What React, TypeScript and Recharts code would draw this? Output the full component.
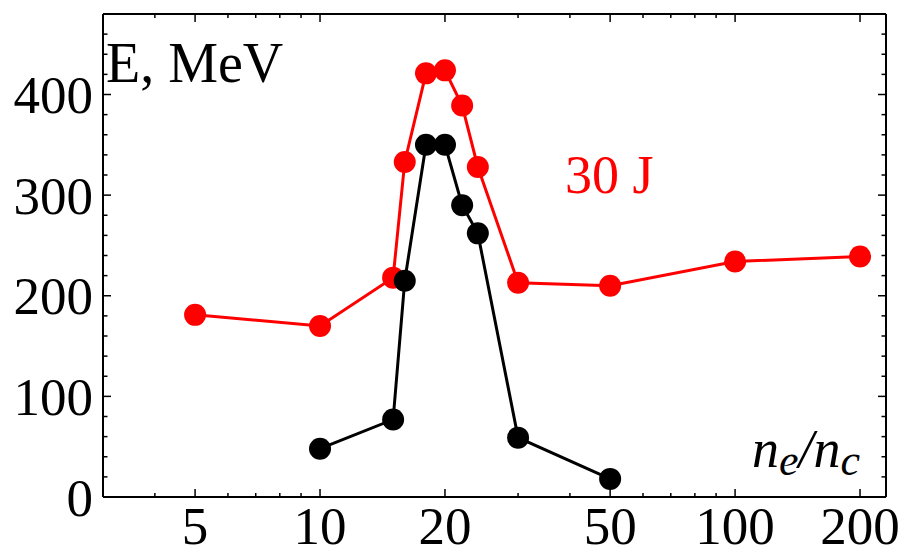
import { LineChart, Line, XAxis, YAxis, Customized } from 'recharts';

// n_e/n_c values for each series
const redX = [5, 10, 15, 16, 18, 20, 22, 24, 30, 50, 100, 200];
const redE = [181, 170, 218, 333, 421, 424, 389, 328, 213, 210, 234, 239];
const blackX = [10, 15, 16, 18, 20, 22, 24, 30, 50];
const blackE = [48, 77, 215, 350, 350, 290, 262, 59, 18];

const xTicks = [4, 5, 6, 7, 8, 9, 10, 20, 30, 40, 50, 60, 70, 80, 90, 100, 200];
const xMajor = [5, 10, 20, 50, 100, 200];
const yTicks = [0, 20, 40, 60, 80, 100, 120, 140, 160, 180, 200, 220, 240, 260, 280, 300, 320, 340, 360, 380, 400, 420, 440, 460];
const yMajor = [0, 100, 200, 300, 400];

const redData = redX.map((x, i) => ({ x, e: redE[i] }));
const blackData = blackX.map((x, i) => ({ x, e: blackE[i] }));

const FONT = 'Liberation Serif, Times New Roman, serif';
const FS = 53;

function BottomTick({ x, y, payload }: any) {
  const major = xMajor.includes(payload.value);
  return (
    <g>
      <line x1={x} x2={x} y1={y} y2={y - (major ? 8 : 4)} stroke="#000" strokeWidth={1.5} />
      {major && (
        <text x={x} y={y + 47} textAnchor="middle" fontFamily={FONT} fontSize={FS} fill="#000">
          {payload.value}
        </text>
      )}
    </g>
  );
}

function TopTick({ x, y, payload }: any) {
  const major = xMajor.includes(payload.value);
  return <line x1={x} x2={x} y1={y} y2={y + (major ? 8 : 4)} stroke="#000" strokeWidth={1.5} />;
}

function LeftTick({ x, y, payload }: any) {
  const major = yMajor.includes(payload.value);
  return (
    <g>
      <line x1={x} x2={x + (major ? 8 : 4.5)} y1={y} y2={y} stroke="#000" strokeWidth={1.5} />
      {major && (
        <text x={x - 10} y={y} dy="0.35em" textAnchor="end" fontFamily={FONT} fontSize={FS} fill="#000">
          {payload.value}
        </text>
      )}
    </g>
  );
}

function RightTick({ x, y, payload }: any) {
  const major = yMajor.includes(payload.value);
  return <line x1={x} x2={x - (major ? 8 : 4.5)} y1={y} y2={y} stroke="#000" strokeWidth={1.5} />;
}

function Labels() {
  return (
    <g>
      <text x={106} y={82} fontFamily={FONT} fontSize={56} fill="#000">E, MeV</text>
      <text x={565} y={193} fontFamily={FONT} fontSize={54} fill="#ff0000">30 J</text>
      <text x={752} y={467} fontFamily={FONT} fontSize={54} fontStyle="italic" fill="#000">
        n<tspan fontSize={44} dy={8}>e</tspan>
        <tspan dy={-8}>/n</tspan>
        <tspan fontSize={44} dy={8}>c</tspan>
      </text>
    </g>
  );
}

export default function App() {
  return (
    <div style={{ position: 'absolute', left: 0, top: 0, background: '#fff' }}>
      <LineChart width={906} height={557} margin={{ top: 13, right: 19, left: 0, bottom: 0 }}>
        <XAxis xAxisId="b" dataKey="x" type="number" scale="log" domain={[3, 231]} ticks={xTicks} interval={0} height={60}
          tickSize={0} tickMargin={0} tick={<BottomTick />} axisLine={{ stroke: '#000', strokeWidth: 2 }} allowDataOverflow />
        <XAxis xAxisId="t" orientation="top" dataKey="x" type="number" scale="log" domain={[3, 231]} ticks={xTicks} interval={0} height={1}
          tickSize={0} tickMargin={0} tick={<TopTick />} axisLine={{ stroke: '#000', strokeWidth: 2 }} allowDataOverflow />
        <YAxis yAxisId="l" domain={[0, 480]} ticks={yTicks} interval={0} width={103}
          tickSize={0} tickMargin={0} tick={<LeftTick />} axisLine={{ stroke: '#000', strokeWidth: 2 }} allowDataOverflow />
        <YAxis yAxisId="r" orientation="right" domain={[0, 480]} ticks={yTicks} interval={0} width={1}
          tickSize={0} tickMargin={0} tick={<RightTick />} axisLine={{ stroke: '#000', strokeWidth: 2 }} allowDataOverflow />
        <Line xAxisId="b" yAxisId="l" data={redData} dataKey="e" stroke="#ff0000" strokeWidth={3}
          dot={{ r: 11, fill: '#ff0000', stroke: 'none' }} activeDot={false} isAnimationActive={false} />
        <Line xAxisId="b" yAxisId="l" data={blackData} dataKey="e" stroke="#000" strokeWidth={3}
          dot={{ r: 11, fill: '#000', stroke: 'none' }} activeDot={false} isAnimationActive={false} />
        <Customized component={<Labels />} />
      </LineChart>
    </div>
  );
}
